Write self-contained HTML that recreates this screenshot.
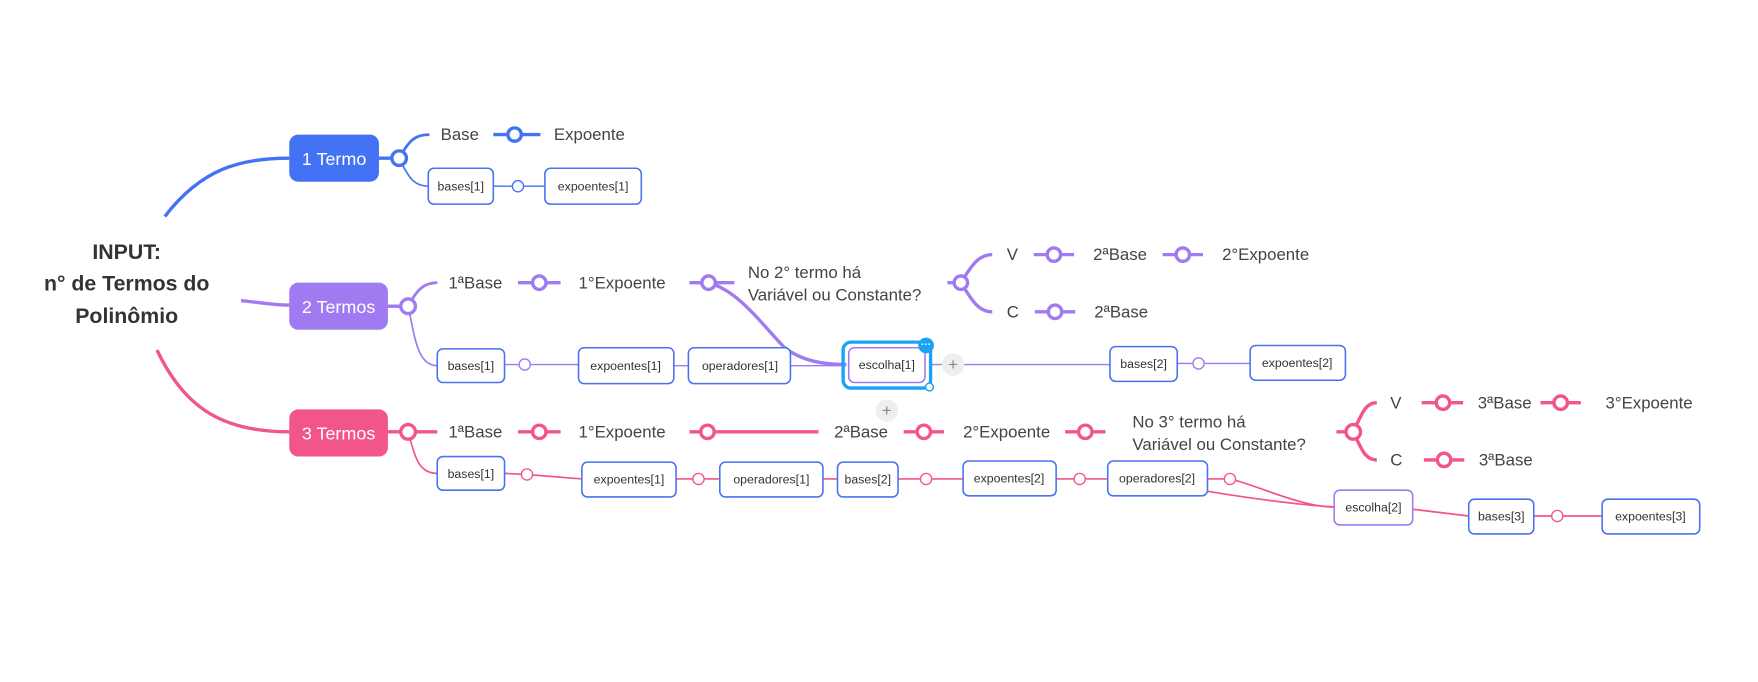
<!DOCTYPE html>
<html><head><meta charset="utf-8"><style>
html,body{margin:0;padding:0;background:#fff;}
svg{display:block;}
text{font-family:"Liberation Sans",sans-serif;}
.l{font-size:15px;fill:#444;}
.b{font-size:11px;fill:#333;}
.bx{fill:#fff;stroke:#4a72f0;stroke-width:1.4;}
</style></head><body>
<svg width="1758" height="682" viewBox="0 0 1568 608" preserveAspectRatio="none" xmlns="http://www.w3.org/2000/svg">
<!-- root -->
<text x="113" y="231" text-anchor="middle" font-size="19" font-weight="bold" fill="#333">INPUT:</text>
<text x="113" y="259" text-anchor="middle" font-size="19" font-weight="bold" fill="#333">n° de Termos do</text>
<text x="113" y="288" text-anchor="middle" font-size="19" font-weight="bold" fill="#333">Polinômio</text>

<!-- BLUE -->
<g stroke="#4472f5" fill="none">
<path d="M147,193 C180,150 215,141 258,141" stroke-width="3"/>
<path d="M338,141 H350" stroke-width="3"/>
<path d="M356,141 C365,125 370,120 383,120" stroke-width="2.5"/>
<path d="M356,141 C365,160 370,166 383,166" stroke-width="1.5"/>
<path d="M440,120 H482" stroke-width="3"/>
<path d="M440,166 H486" stroke-width="1.2"/>
</g>
<rect x="258" y="120" width="80" height="42" rx="8" fill="#4472f5"/>
<text x="298" y="147" text-anchor="middle" font-size="16" fill="#fff">1 Termo</text>
<circle cx="356" cy="141" r="6.5" fill="#fff" stroke="#4472f5" stroke-width="3"/>
<text x="393" y="125" class="l">Base</text>
<circle cx="459" cy="120" r="6" fill="#fff" stroke="#4472f5" stroke-width="3"/>
<text x="494" y="125" class="l">Expoente</text>
<rect x="382" y="150" width="58" height="32" rx="5" class="bx"/><text x="411" y="170" text-anchor="middle" class="b">bases[1]</text>
<circle cx="462" cy="166" r="5" fill="#fff" stroke="#4472f5" stroke-width="1.2"/>
<rect x="486" y="150" width="86" height="32" rx="5" class="bx"/><text x="529" y="170" text-anchor="middle" class="b">expoentes[1]</text>

<!-- PURPLE -->
<g stroke="#a07af0" fill="none">
<path d="M215,268 C235,270 245,272 258,272" stroke-width="3"/>
<path d="M346,273 H358" stroke-width="3"/>
<path d="M364,273 C372,258 378,252 390,252" stroke-width="2.5"/>
<path d="M364,273 C370,300 372,326 390,326" stroke-width="1.5"/>
<path d="M462,252 H500 M615,252 H655" stroke-width="3"/>
<path d="M632,252 C660,260 680,290 700,310 C715,322 735,325 755,325" stroke-width="3"/>
<path d="M845,252 H857" stroke-width="3"/>
<path d="M857,252 C866,238 872,227 885,227" stroke-width="3"/>
<path d="M857,252 C866,266 872,278 885,278" stroke-width="3"/>
<path d="M922,227 H958 M1037,227 H1073 M923,278 H959" stroke-width="3"/>
<path d="M450,325 H516 M601,326 H614 M705,326 H755 M830,325 H990 M1050,324 H1115" stroke-width="1.3"/>
</g>
<rect x="258" y="252" width="88" height="42" rx="8" fill="#a07af0"/>
<text x="302" y="279" text-anchor="middle" font-size="16" fill="#fff">2 Termos</text>
<g fill="#fff" stroke="#a07af0" stroke-width="3">
<circle cx="364" cy="273" r="6.5"/><circle cx="481" cy="252" r="6"/><circle cx="632" cy="252" r="6"/>
<circle cx="857" cy="252" r="6"/><circle cx="940" cy="227" r="6"/><circle cx="1055" cy="227" r="6"/><circle cx="941" cy="278" r="6"/>
</g>
<text x="400" y="257" class="l">1ªBase</text>
<text x="516" y="257" class="l">1°Expoente</text>
<text x="667" y="248" class="l">No 2° termo há</text>
<text x="667" y="268" class="l">Variável ou Constante?</text>
<text x="898" y="232" class="l">V</text><text x="975" y="232" class="l">2ªBase</text><text x="1090" y="232" class="l">2°Expoente</text>
<text x="898" y="283" class="l">C</text><text x="976" y="283" class="l">2ªBase</text>
<rect x="390" y="311" width="60" height="30" rx="5" class="bx"/><text x="420" y="330" text-anchor="middle" class="b">bases[1]</text>
<circle cx="468" cy="325" r="5" fill="#fff" stroke="#a07af0" stroke-width="1.2"/>
<rect x="516" y="310" width="85" height="32" rx="5" class="bx"/><text x="558" y="330" text-anchor="middle" class="b">expoentes[1]</text>
<rect x="614" y="310" width="91" height="32" rx="5" class="bx"/><text x="660" y="330" text-anchor="middle" class="b">operadores[1]</text>
<rect x="752" y="305" width="78" height="41" rx="7" fill="none" stroke="#1aa3f5" stroke-width="3"/>
<rect x="757" y="310" width="68" height="31" rx="5" fill="#fff" stroke="#a07af0" stroke-width="1.4"/>
<text x="791" y="329" text-anchor="middle" class="b">escolha[1]</text>
<circle cx="826" cy="308" r="7" fill="#1aa3f5"/><text x="826" y="310" text-anchor="middle" font-size="9" fill="#fff" font-weight="bold">···</text>
<circle cx="829" cy="345" r="3.5" fill="#fff" stroke="#1aa3f5" stroke-width="1.3"/>
<circle cx="850" cy="325" r="10" fill="#eceef0"/><text x="850" y="330" text-anchor="middle" font-size="15" fill="#888">+</text>
<circle cx="791" cy="366" r="10" fill="#eceef0"/><text x="791" y="371" text-anchor="middle" font-size="15" fill="#888">+</text>
<rect x="990" y="309" width="60" height="31" rx="5" class="bx"/><text x="1020" y="328" text-anchor="middle" class="b">bases[2]</text>
<circle cx="1069" cy="324" r="5" fill="#fff" stroke="#a07af0" stroke-width="1.2"/>
<rect x="1115" y="308" width="85" height="31" rx="5" class="bx"/><text x="1157" y="327" text-anchor="middle" class="b">expoentes[2]</text>

<!-- PINK -->
<g stroke="#f2558a" fill="none">
<path d="M140,312 C165,365 200,385 258,385" stroke-width="3"/>
<path d="M346,385 H390 M462,385 H500 M615,385 H730 M806,385 H842 M950,385 H986 M1192,385 H1207" stroke-width="3"/>
<path d="M1207,385 C1215,368 1218,359 1228,359 M1207,385 C1215,402 1218,410 1228,410" stroke-width="3"/>
<path d="M1268,359 H1305 M1374,359 H1410 M1270,410 H1306" stroke-width="3"/>
<path d="M364,385 C370,405 372,422 390,422" stroke-width="1.5"/>
<path d="M450,422 L470,423 L519,427 M603,427 H642 M734,427 H747 M801,427 H859 M942,427 H988 M1077,427 H1097 C1120,432 1160,452 1190,452 M1077,438 C1120,445 1160,450 1190,452 M1260,454 L1310,460 M1368,460 H1429" stroke-width="1.5"/>
</g>
<rect x="258" y="365" width="88" height="42" rx="8" fill="#f2558a"/>
<text x="302" y="392" text-anchor="middle" font-size="16" fill="#fff">3 Termos</text>
<g fill="#fff" stroke="#f2558a" stroke-width="3">
<circle cx="364" cy="385" r="6.5"/><circle cx="481" cy="385" r="6"/><circle cx="631" cy="385" r="6"/>
<circle cx="824" cy="385" r="6"/><circle cx="968" cy="385" r="6"/><circle cx="1207" cy="385" r="6.5"/>
<circle cx="1287" cy="359" r="6"/><circle cx="1392" cy="359" r="6"/><circle cx="1288" cy="410" r="6"/>
</g>
<text x="400" y="390" class="l">1ªBase</text>
<text x="516" y="390" class="l">1°Expoente</text>
<text x="744" y="390" class="l">2ªBase</text>
<text x="859" y="390" class="l">2°Expoente</text>
<text x="1010" y="381" class="l">No 3° termo há</text>
<text x="1010" y="401" class="l">Variável ou Constante?</text>
<text x="1240" y="364" class="l">V</text><text x="1318" y="364" class="l">3ªBase</text><text x="1432" y="364" class="l">3°Expoente</text>
<text x="1240" y="415" class="l">C</text><text x="1319" y="415" class="l">3ªBase</text>
<rect x="390" y="407" width="60" height="30" rx="5" class="bx"/><text x="420" y="426" text-anchor="middle" class="b">bases[1]</text>
<g fill="#fff" stroke="#f2558a" stroke-width="1.2">
<circle cx="470" cy="423" r="5"/><circle cx="623" cy="427" r="5"/><circle cx="826" cy="427" r="5"/><circle cx="963" cy="427" r="5"/><circle cx="1097" cy="427" r="5"/><circle cx="1389" cy="460" r="5"/>
</g>
<rect x="519" y="412" width="84" height="31" rx="5" class="bx"/><text x="561" y="431" text-anchor="middle" class="b">expoentes[1]</text>
<rect x="642" y="412" width="92" height="31" rx="5" class="bx"/><text x="688" y="431" text-anchor="middle" class="b">operadores[1]</text>
<rect x="747" y="412" width="54" height="31" rx="5" class="bx"/><text x="774" y="431" text-anchor="middle" class="b">bases[2]</text>
<rect x="859" y="411" width="83" height="31" rx="5" class="bx"/><text x="900" y="430" text-anchor="middle" class="b">expoentes[2]</text>
<rect x="988" y="411" width="89" height="31" rx="5" class="bx"/><text x="1032" y="430" text-anchor="middle" class="b">operadores[2]</text>
<rect x="1190" y="437" width="70" height="31" rx="5" fill="#fff" stroke="#a07af0" stroke-width="1.4"/><text x="1225" y="456" text-anchor="middle" class="b">escolha[2]</text>
<rect x="1310" y="445" width="58" height="31" rx="5" class="bx"/><text x="1339" y="464" text-anchor="middle" class="b">bases[3]</text>
<rect x="1429" y="445" width="87" height="31" rx="5" class="bx"/><text x="1472" y="464" text-anchor="middle" class="b">expoentes[3]</text>
</svg>
</body></html>
